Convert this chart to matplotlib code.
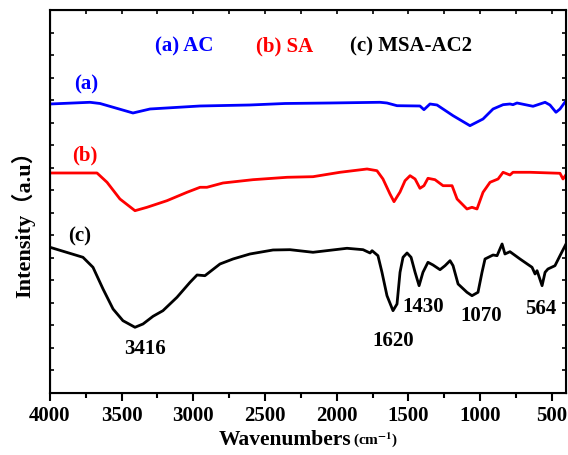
import matplotlib
matplotlib.use("Agg")
import matplotlib.pyplot as plt
import numpy as np

plt.rcParams['font.family'] = ['Liberation Serif', 'Noto Sans CJK SC', 'DejaVu Sans']
plt.rcParams['font.weight'] = 'bold'
plt.rcParams['mathtext.fontset'] = 'stix'

# curve (a) AC
wn_a = [4000, 3721, 3651, 3421, 3302, 2953, 2605, 2360, 2046, 1698, 1649, 1579, 1419, 1391,
        1349, 1300, 1188, 1070, 979, 909, 839, 791, 770, 742, 630, 546, 512, 470, 442, 400]
int_a = [289, 290.7, 289.5, 280, 284, 287, 288, 289.5, 290, 290.7, 290, 287.3, 287, 283.3,
         289, 288, 277.3, 267.3, 274, 284, 288.3, 289, 288.3, 290, 286.7, 290.7, 288, 280.7, 284, 292.3]

# curve (b) SA
wn_b = [4000, 3672, 3602, 3512, 3407, 3323, 3184, 3044, 2953, 2905, 2793, 2584, 2346, 2165,
        1977, 1788, 1719, 1677, 1628, 1600, 1558, 1523, 1488, 1453, 1419, 1391, 1363, 1314,
        1258, 1195, 1160, 1091, 1056, 1021, 979, 930, 874, 839, 791, 770, 651, 442, 421, 400]
int_b = [220, 220, 210.7, 194, 182.3, 185.7, 192.3, 200.7, 205.7, 205.7, 210, 213.3, 215.7, 216.3,
         220.7, 224, 222.3, 214, 199, 191.3, 201, 212.3, 217.3, 214, 204.7, 207.3, 214.7, 213.3,
         207.3, 207.3, 194, 184, 185.7, 184, 200.7, 210.7, 214, 220.7, 218, 220.7, 220.7, 219.7, 214, 218.3]

# curve (c) MSA-AC2
wn_c = [4000, 3770, 3700, 3630, 3560, 3491, 3407, 3351, 3281, 3212, 3114, 3023, 2974, 2919,
        2814, 2723, 2605, 2444, 2326, 2165, 1928, 1816, 1767, 1753, 1712, 1684, 1649, 1607,
        1579, 1558, 1537, 1509, 1481, 1453, 1425, 1398, 1363, 1328, 1279, 1244, 1209, 1188,
        1153, 1091, 1056, 1035, 1014, 986, 965, 909, 881, 846, 826, 791, 721, 637, 616, 602,
        567, 546, 526, 477, 442, 400]
int_c = [145.7, 135.7, 125.7, 104, 84, 72.3, 65.7, 69, 76.7, 82.3, 95.7, 110.7, 118, 117.3,
         129, 134, 139, 143, 143.3, 140.7, 144.7, 143.3, 140, 142.3, 137.3, 120.7, 97.3, 82.3,
         89, 120.7, 135.7, 140, 135.7, 120.7, 107.3, 120.7, 130.7, 128, 123.3, 127.3, 132.3, 127.3,
         109, 100.7, 97.3, 99, 100.7, 120.7, 134, 138, 137.3, 149, 139, 141.3, 134, 125.7, 119, 122.3,
         107.3, 120.7, 124, 127.3, 137.3, 149]

peak_labels = ["3416", "1620", "1430", "1070", "564"]
peak_x = [3337, 1607, 1398, 993, 574]
peak_y = [45, 53, 87, 78, 85]

fig = plt.figure(figsize=(5.68, 4.56), dpi=100)
ax = fig.add_axes([0.088, 0.136, 0.9085, 0.8399])

ax.plot(wn_a, int_a, color='#0000ff', lw=2)
ax.plot(wn_b, int_b, color='#ff0000', lw=2)
ax.plot(wn_c, int_c, color='black', lw=2)

ax.set_xlim(4000, 400)
ax.set_ylim(0, 383)
ax.set_xticks(np.arange(4000, 399, -500))
ax.set_xticks(np.arange(3750, 399, -500), minor=True)
ax.set_yticks(np.linspace(0, 383, 18))
ax.set_yticklabels([])
ax.tick_params(axis='x', which='major', direction='out', length=6, width=1.5, labelsize=15, pad=3)
ax.tick_params(axis='x', which='minor', direction='out', length=3.5, width=1.5)
ax.tick_params(axis='y', direction='in', length=3, width=1.2, left=True, right=True)
for lab in ax.get_xticklabels():
    lab.set_fontweight('bold')
for sp in ax.spines.values():
    sp.set_linewidth(1.5)

# top ticks pointing inwards
top = ax.twiny()
top.set_xlim(ax.get_xlim())
top.set_xticks(np.arange(4000, 399, -500))
top.set_xticks(np.arange(3750, 399, -500), minor=True)
top.set_xticklabels([])
top.tick_params(axis='x', which='both', direction='in', length=3, width=1.2)

for lab, x, y in zip(peak_labels, peak_x, peak_y):
    ax.text(x, y, lab, ha='center', va='center', fontsize=15, fontweight='bold')

ax.text(3749, 310, "(a)", color='#0000ff', ha='center', va='center', fontsize=15, fontweight='bold')
ax.text(3756, 239, "(b)", color='#ff0000', ha='center', va='center', fontsize=15, fontweight='bold')
ax.text(3791, 158, "(c)", color='black', ha='center', va='center', fontsize=15, fontweight='bold')

fig.text(155 / 568, 0.897, "(a) AC", color='#0000ff', ha='left', va='center', fontsize=15, fontweight='bold')
fig.text(256 / 568, 0.897, "(b) SA", color='#ff0000', ha='left', va='center', fontsize=15, fontweight='bold')
fig.text(350 / 568, 0.897, "(c) MSA-AC2", color='black', ha='left', va='center', fontsize=15, fontweight='bold')

fig.text(351 / 568, 1 - 440 / 456, "Wavenumbers", ha='right', va='center', fontsize=15.5, fontweight='bold')
fig.text(353 / 568, 1 - 440 / 456, r"(cm$^{\mathbf{-1}}$)", ha='left', va='center', fontsize=11, fontweight='bold')
fig.text(0.0405, 1 - 219 / 456, "Intensity（a.u）", rotation=90, ha='center', va='center',
         fontsize=16, fontweight='bold')

fig.savefig("out.png", dpi=100)
